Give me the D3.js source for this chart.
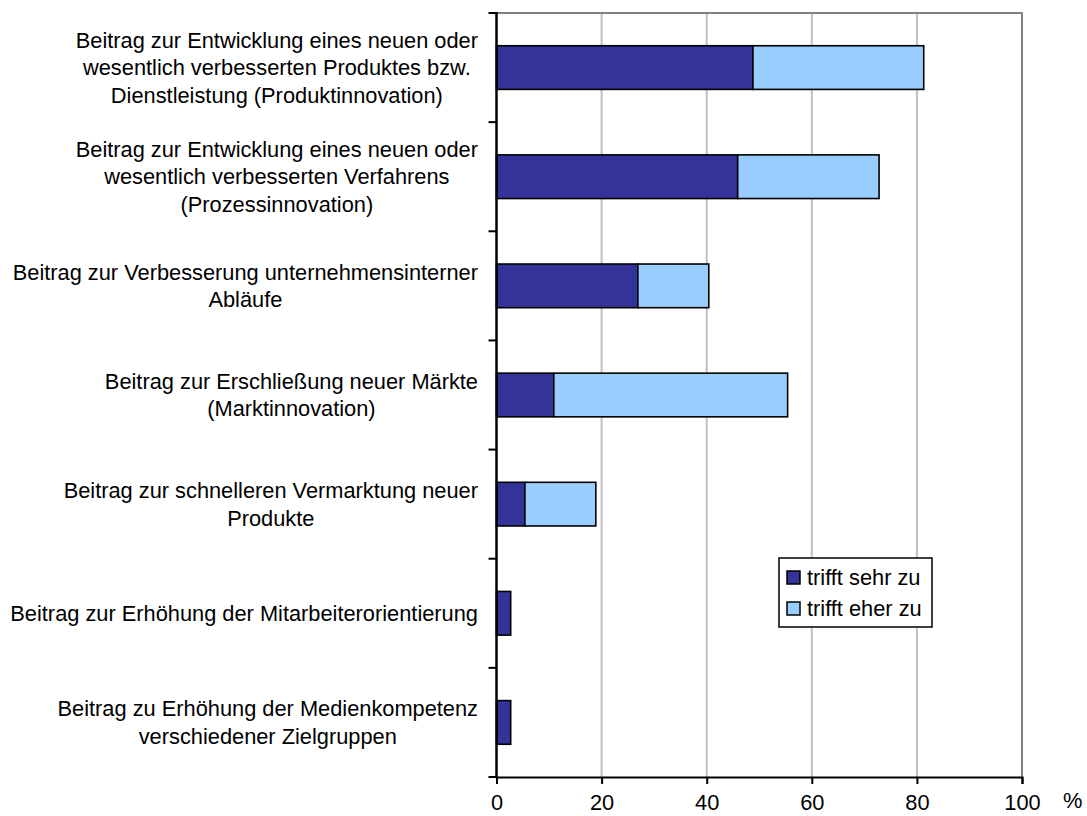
<!DOCTYPE html>
<html>
<head>
<meta charset="utf-8">
<script src="https://cdn.jsdelivr.net/npm/d3@7"></script>
<style>
  body { margin: 0; background: #fff; }
  text { font-family: "Liberation Sans", Arial, sans-serif; fill: #000; }
</style>
</head>
<body>
<svg id="chart" width="1087" height="816"></svg>
<script>
// category labels, one array of lines per bar
const categories = [
    ['Beitrag zur Entwicklung eines neuen oder', 'wesentlich verbesserten Produktes bzw.', 'Dienstleistung (Produktinnovation)'],
    ['Beitrag zur Entwicklung eines neuen oder', 'wesentlich verbesserten Verfahrens', '(Prozessinnovation)'],
    ['Beitrag zur Verbesserung unternehmensinterner', 'Abläufe'],
    ['Beitrag zur Erschließung neuer Märkte', '(Marktinnovation)'],
    ['Beitrag zur schnelleren Vermarktung neuer', 'Produkte'],
    ['Beitrag zur Erhöhung der Mitarbeiterorientierung'],
    ['Beitrag zu Erhöhung der Medienkompetenz', 'verschiedener Zielgruppen']
]
const sehr = [48.8, 45.9, 26.9, 10.9, 5.4, 2.7, 2.7]
const eher = [32.5, 26.9, 13.5, 44.5, 13.5, 0, 0]
const seriesNames = ['trifft sehr zu', 'trifft eher zu']
const colors = ['#333399', '#99ccff']
const xTicks = [0, 20, 40, 60, 80, 100]

const svg = d3.select('#chart')
const fs = 21.8

let plotL = 496.5, plotR = 1022, plotT = 13, plotB = 777

let x = d3.scaleLinear().domain([0, 100]).range([plotL, plotR])
let y = d3.scaleBand()
    .domain(d3.range(categories.length))
    .range([plotT, plotB])
    .paddingInner(0.6)
    .paddingOuter(0.3)

// gridlines
svg.append('g')
    .selectAll('line')
    .data(xTicks.slice(1, -1))
    .join('line')
    .attr('x1', d => x(d)).attr('x2', d => x(d))
    .attr('y1', plotT).attr('y2', plotB)
    .attr('stroke', '#c0c0c0')
    .attr('stroke-width', 2)

// plot frame (top + right in gray)
svg.append('path')
    .attr('d', `M${plotL},${plotT}H${plotR}V${plotB}`)
    .attr('fill', 'none')
    .attr('stroke', '#808080')
    .attr('stroke-width', 2)

// stacked bars
let rows = categories.map((c, i) => ({ i, parts: [[0, sehr[i]], [sehr[i], sehr[i] + eher[i]]] }))

let bars = svg.append('g')
    .selectAll('g.row')
    .data(rows)
    .join('g')
    .classed('row', true)

bars.selectAll('rect')
    .data(d => d.parts.map((p, k) => ({ i: d.i, k, p })).filter(e => e.p[1] > e.p[0]))
    .join('rect')
    .attr('x', d => x(d.p[0]))
    .attr('y', d => y(d.i))
    .attr('width', d => x(d.p[1]) - x(d.p[0]))
    .attr('height', y.bandwidth())
    .attr('fill', d => colors[d.k])
    .attr('stroke', '#000')
    .attr('stroke-width', 1.6)

// x axis
let xAxis = svg.append('g')
    .attr('transform', `translate(0,${plotB})`)
    .call(d3.axisBottom(x).tickValues(xTicks).tickSize(7).tickPadding(11))
xAxis.select('.domain').attr('stroke', '#000').attr('stroke-width', 2)
xAxis.selectAll('.tick line').attr('stroke', '#000').attr('stroke-width', 2)
xAxis.selectAll('.tick text')
    .attr('font-size', fs)
    .attr('font-family', '"Liberation Sans", Arial, sans-serif')
    .attr('fill', '#000')

svg.append('text')
    .attr('x', 1063)
    .attr('y', 808)
    .attr('font-size', fs)
    .text('%')

// y axis with ticks on category boundaries
let bounds = d3.range(categories.length + 1).map(i => plotT + i * y.step())
svg.append('line')
    .attr('x1', plotL).attr('x2', plotL)
    .attr('y1', plotT - 1).attr('y2', plotB + 1)
    .attr('stroke', '#000').attr('stroke-width', 2.5)
svg.append('g')
    .selectAll('line')
    .data(bounds)
    .join('line')
    .attr('x1', plotL - 8).attr('x2', plotL)
    .attr('y1', d => d).attr('y2', d => d)
    .attr('stroke', '#000').attr('stroke-width', 2)

// category labels: centred lines, block right-aligned at 478
let lineH = 27.5
let labels = svg.append('g')
    .selectAll('text')
    .data(categories)
    .join('text')
    .attr('font-size', fs)
    .attr('text-anchor', 'middle')
labels.selectAll('tspan')
    .data((d, i) => d.map((t, j) => ({ t, j, n: d.length, i })))
    .join('tspan')
    .attr('x', 0)
    .attr('y', d => y(d.i) + y.bandwidth() / 2 + (d.j - (d.n - 1) / 2) * lineH)
    .attr('dy', '0.35em')
    .text(d => d.t)
labels.each(function () {
    let spans = d3.select(this).selectAll('tspan')
    let w = d3.max(spans.nodes(), n => n.getComputedTextLength())
    spans.attr('x', 478 - w / 2)
})

// legend
let lg = svg.append('g')
lg.append('rect')
    .attr('x', 779).attr('y', 558)
    .attr('width', 153).attr('height', 69)
    .attr('fill', '#fff')
    .attr('stroke', '#000').attr('stroke-width', 1.5)
let items = lg.selectAll('g.item')
    .data(seriesNames)
    .join('g')
    .classed('item', true)
    .attr('transform', (d, i) => `translate(787,${571 + i * 31})`)
items.append('rect')
    .attr('width', 13).attr('height', 13)
    .attr('fill', (d, i) => colors[i])
    .attr('stroke', '#000').attr('stroke-width', 1.5)
items.append('text')
    .attr('x', 20)
    .attr('y', 14)
    .attr('font-size', fs)
    .text(d => d)
</script>
</body>
</html>
